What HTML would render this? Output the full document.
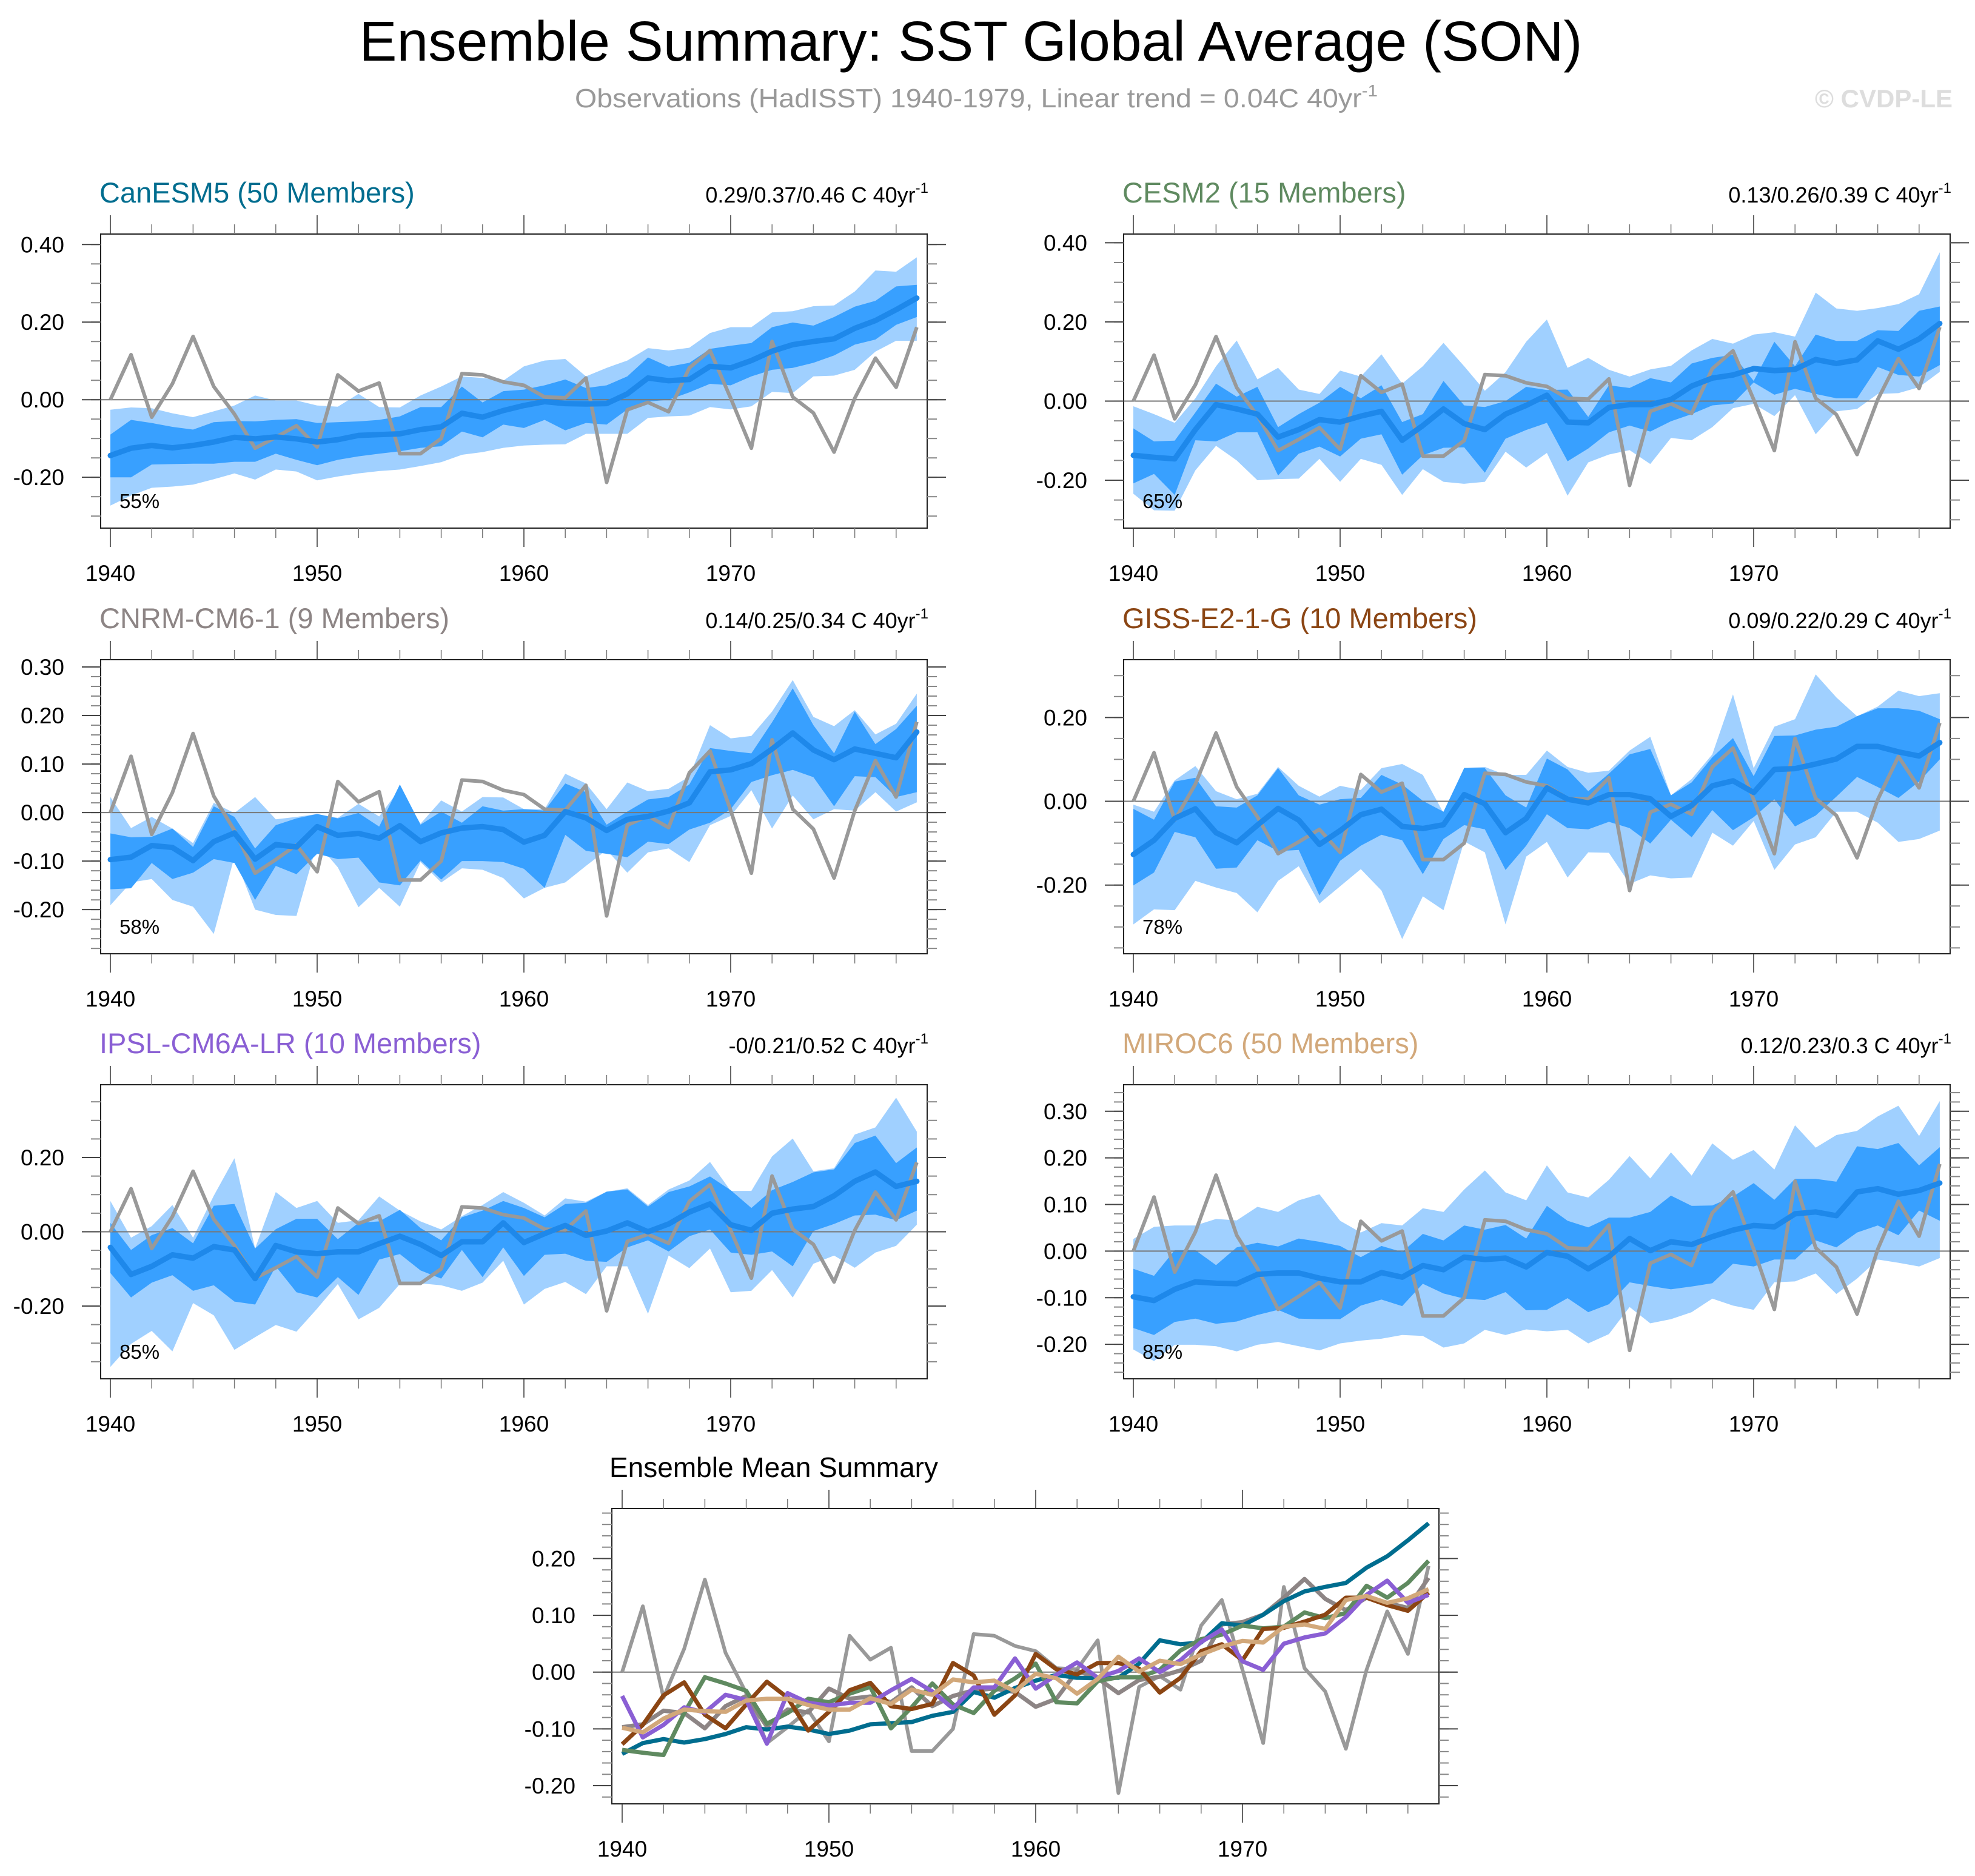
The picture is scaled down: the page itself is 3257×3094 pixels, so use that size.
<!DOCTYPE html>
<html><head><meta charset="utf-8">
<style>
html,body{margin:0;padding:0;background:#fff;}
svg{display:block;font-family:"Liberation Sans",Arial,sans-serif;}
</style></head>
<body>
<svg id="chart" xmlns="http://www.w3.org/2000/svg" width="3257" height="3094" viewBox="0 0 3257 3094">
<rect x="0" y="0" width="3257" height="3094" fill="#fff"/>
<text x="1601" y="100" font-size="93" text-anchor="middle" fill="#000" textLength="2017" lengthAdjust="spacingAndGlyphs">Ensemble Summary: SST Global Average (SON)</text>
<text x="948" y="177" font-size="44" fill="#999" textLength="1324" lengthAdjust="spacingAndGlyphs">Observations (HadISST) 1940-1979, Linear trend = 0.04C 40yr<tspan dy="-18" font-size="28">-1</tspan></text>
<text x="3220" y="177" font-size="42" font-weight="bold" fill="#ddd" text-anchor="end">© CVDP-LE</text>
</svg>
<script>
const years = [1940,1941,1942,1943,1944,1945,1946,1947,1948,1949,1950,1951,1952,1953,1954,1955,1956,1957,1958,1959,1960,1961,1962,1963,1964,1965,1966,1967,1968,1969,1970,1971,1972,1973,1974,1975,1976,1977,1978,1979];
const xTickLabels = ["1940","1950","1960","1970"];
const obs = [0.00,0.116,-0.045,0.041,0.163,0.034,-0.037,-0.125,-0.097,-0.067,-0.122,0.064,0.022,0.043,-0.139,-0.139,-0.10,0.067,0.064,0.046,0.037,0.007,0.005,0.056,-0.213,-0.026,-0.007,-0.031,0.082,0.127,0.004,-0.125,0.15,0.007,-0.034,-0.135,0.004,0.107,0.032,0.187];

const canMean = [-0.144,-0.125,-0.118,-0.124,-0.118,-0.109,-0.097,-0.101,-0.096,-0.101,-0.109,-0.103,-0.092,-0.09,-0.088,-0.077,-0.07,-0.035,-0.045,-0.028,-0.015,-0.005,-0.01,-0.011,-0.01,0.015,0.056,0.049,0.052,0.086,0.082,0.101,0.125,0.142,0.15,0.157,0.184,0.204,0.232,0.262];
const canP90 = [-0.026,-0.02,-0.022,-0.035,-0.045,-0.03,-0.015,0.011,-0.002,-0.002,-0.015,-0.018,0.015,-0.019,-0.02,0.011,0.034,0.06,0.056,0.049,0.086,0.101,0.105,0.06,0.082,0.101,0.133,0.127,0.134,0.172,0.187,0.187,0.225,0.228,0.241,0.243,0.279,0.333,0.33,0.367];
const canP75 = [-0.09,-0.052,-0.06,-0.07,-0.077,-0.058,-0.055,-0.056,-0.052,-0.05,-0.06,-0.058,-0.056,-0.052,-0.043,-0.019,-0.019,0.034,-0.007,0.022,0.026,0.037,0.052,0.03,0.037,0.06,0.109,0.085,0.095,0.131,0.139,0.146,0.187,0.199,0.191,0.213,0.24,0.255,0.292,0.296];
const canP25 = [-0.20,-0.20,-0.167,-0.166,-0.165,-0.165,-0.16,-0.16,-0.139,-0.155,-0.169,-0.155,-0.146,-0.139,-0.133,-0.124,-0.12,-0.082,-0.097,-0.064,-0.073,-0.052,-0.079,-0.06,-0.064,-0.025,-0.005,0.0,0.019,0.041,0.037,0.06,0.077,0.082,0.095,0.114,0.142,0.155,0.193,0.213];
const canP10 = [-0.273,-0.247,-0.227,-0.224,-0.219,-0.205,-0.19,-0.206,-0.18,-0.185,-0.208,-0.198,-0.19,-0.184,-0.18,-0.171,-0.161,-0.142,-0.135,-0.124,-0.118,-0.116,-0.115,-0.088,-0.088,-0.088,-0.047,-0.043,-0.041,-0.019,-0.025,-0.017,0.02,0.017,0.06,0.062,0.077,0.124,0.152,0.152];

const cesmMean = [-0.137,-0.142,-0.146,-0.072,-0.009,-0.02,-0.033,-0.091,-0.072,-0.047,-0.053,-0.038,-0.026,-0.099,-0.062,-0.02,-0.057,-0.072,-0.033,-0.011,0.015,-0.053,-0.055,-0.016,-0.009,-0.009,0.004,0.038,0.058,0.066,0.082,0.077,0.08,0.105,0.095,0.104,0.152,0.131,0.157,0.196];
const cesmP90 = [-0.013,-0.033,-0.055,0.007,0.088,0.153,0.055,0.084,0.029,0.018,0.077,0.062,0.118,0.044,0.088,0.147,0.088,0.026,0.073,0.15,0.206,0.084,0.109,0.079,0.062,0.08,0.089,0.128,0.157,0.145,0.168,0.174,0.163,0.274,0.234,0.228,0.235,0.245,0.27,0.376];
const cesmP75 = [-0.069,-0.102,-0.1,-0.029,0.044,0.011,0.036,-0.066,-0.033,-0.004,0.036,0.007,0.04,-0.053,-0.033,0.051,-0.011,-0.015,0.0,0.036,0.028,0.029,-0.04,0.04,0.033,0.058,0.047,0.095,0.109,0.117,0.051,0.15,0.088,0.168,0.152,0.152,0.179,0.177,0.228,0.239];
const cesmP25 = [-0.208,-0.184,-0.237,-0.099,-0.102,-0.079,-0.079,-0.188,-0.133,-0.115,-0.14,-0.095,-0.084,-0.186,-0.137,-0.118,-0.117,-0.181,-0.095,-0.073,-0.055,-0.152,-0.12,-0.079,-0.062,-0.077,-0.051,-0.033,-0.011,-0.006,0.047,0.016,0.031,0.018,0.007,0.007,0.086,0.066,0.062,0.091];
const cesmP10 = [-0.234,-0.276,-0.277,-0.175,-0.113,-0.15,-0.2,-0.197,-0.196,-0.146,-0.204,-0.146,-0.161,-0.237,-0.172,-0.204,-0.209,-0.204,-0.128,-0.168,-0.131,-0.239,-0.155,-0.135,-0.124,-0.159,-0.093,-0.099,-0.066,-0.018,-0.007,-0.038,0.015,-0.084,-0.026,-0.02,0.018,0.02,0.035,0.074];

const cnrmMean = [-0.097,-0.092,-0.068,-0.072,-0.099,-0.06,-0.042,-0.096,-0.066,-0.071,-0.029,-0.047,-0.043,-0.053,-0.027,-0.06,-0.042,-0.032,-0.029,-0.035,-0.061,-0.047,0.002,-0.011,-0.037,-0.014,-0.008,0.003,0.02,0.084,0.088,0.101,0.131,0.164,0.129,0.109,0.131,0.122,0.113,0.166];
const cnrmP90 = [0.032,-0.032,-0.009,-0.033,-0.063,0.02,-0.001,0.032,-0.014,-0.009,-0.003,-0.011,0.018,-0.008,0.049,-0.023,0.025,0.002,0.032,0.031,0.007,0.007,0.08,0.06,0.007,0.062,0.044,0.049,0.074,0.18,0.153,0.158,0.208,0.273,0.197,0.178,0.211,0.161,0.183,0.245];
const cnrmP75 = [-0.043,-0.051,-0.05,-0.033,-0.071,0.013,-0.009,-0.074,-0.026,-0.012,-0.003,-0.012,-0.001,-0.029,0.058,-0.025,0.002,-0.021,0.013,0.004,0.007,0.004,0.06,0.042,-0.025,0.002,0.027,0.032,0.058,0.133,0.127,0.122,0.186,0.256,0.18,0.122,0.208,0.141,0.172,0.22];
const cnrmP25 = [-0.158,-0.156,-0.104,-0.137,-0.124,-0.096,-0.104,-0.18,-0.11,-0.127,-0.085,-0.096,-0.093,-0.144,-0.15,-0.099,-0.138,-0.1,-0.1,-0.102,-0.116,-0.155,-0.046,-0.079,-0.085,-0.092,-0.06,-0.065,-0.035,-0.021,0.007,0.063,0.077,0.088,0.073,0.013,0.075,0.073,0.032,0.042];
const cnrmP10 = [-0.191,-0.144,-0.137,-0.18,-0.194,-0.25,-0.091,-0.2,-0.211,-0.213,-0.063,-0.113,-0.195,-0.155,-0.194,-0.102,-0.144,-0.115,-0.118,-0.135,-0.177,-0.155,-0.144,-0.11,-0.077,-0.124,-0.082,-0.074,-0.102,-0.026,-0.007,0.046,-0.033,0.035,-0.014,0.007,0.004,0.042,0.002,0.021];

const gissMean = [-0.127,-0.093,-0.041,-0.018,-0.075,-0.099,-0.057,-0.017,-0.045,-0.103,-0.07,-0.032,-0.019,-0.06,-0.065,-0.056,0.016,-0.006,-0.075,-0.041,0.032,0.005,-0.004,0.016,0.016,0.006,-0.036,-0.01,0.037,0.049,0.021,0.076,0.078,0.089,0.101,0.131,0.131,0.118,0.108,0.14];
const gissP90 = [-0.008,-0.025,0.05,0.084,0.024,0.005,0.018,0.082,0.037,0.011,0.037,0.027,0.079,0.089,0.063,-0.028,0.08,0.082,0.063,0.063,0.121,0.082,0.068,0.073,0.121,0.154,0.014,0.053,0.112,0.255,0.079,0.178,0.196,0.303,0.248,0.203,0.226,0.264,0.251,0.258];
const gissP75 = [-0.018,-0.044,0.047,0.056,-0.012,-0.015,0.014,0.079,0.014,-0.008,0.005,0.008,0.063,0.04,0.001,-0.025,0.079,0.079,0.014,-0.015,0.102,0.076,0.024,0.066,0.112,0.125,0.014,0.045,0.105,0.151,0.06,0.156,0.157,0.171,0.178,0.203,0.222,0.222,0.216,0.196];
const gissP25 = [-0.201,-0.17,-0.073,-0.086,-0.161,-0.158,-0.093,-0.119,-0.116,-0.225,-0.142,-0.106,-0.08,-0.093,-0.174,-0.09,-0.057,-0.067,-0.164,-0.106,-0.031,-0.064,-0.067,-0.049,-0.064,-0.101,-0.044,-0.086,-0.021,-0.069,-0.038,0.005,-0.06,-0.034,0.011,0.058,0.034,0.008,0.047,0.1];
const gissP10 = [-0.294,-0.258,-0.26,-0.19,-0.206,-0.219,-0.265,-0.19,-0.155,-0.244,-0.203,-0.162,-0.213,-0.329,-0.227,-0.26,-0.096,-0.122,-0.294,-0.132,-0.097,-0.182,-0.122,-0.123,-0.197,-0.177,-0.184,-0.182,-0.075,-0.106,-0.047,-0.164,-0.103,-0.086,-0.025,-0.025,-0.051,-0.097,-0.09,-0.07];

const ipslMean = [-0.042,-0.115,-0.093,-0.062,-0.071,-0.04,-0.049,-0.126,-0.037,-0.054,-0.059,-0.054,-0.054,-0.032,-0.012,-0.034,-0.064,-0.027,-0.027,0.024,-0.029,-0.005,0.017,-0.01,0.002,0.024,0.0,0.021,0.053,0.075,0.019,0.004,0.05,0.061,0.068,0.097,0.136,0.161,0.122,0.136];
const ipslP90 = [0.083,-0.016,0.015,0.072,-0.016,0.097,0.198,-0.045,0.107,0.064,0.083,0.024,0.031,0.095,0.057,0.028,0.006,0.042,0.072,0.107,0.078,0.044,0.09,0.081,0.108,0.117,0.072,0.114,0.138,0.188,0.11,0.11,0.203,0.251,0.163,0.171,0.262,0.281,0.361,0.27];
const ipslP75 = [0.024,-0.049,-0.009,0.01,-0.031,0.07,0.075,-0.045,0.007,0.035,0.035,-0.02,0.024,0.028,0.059,0.01,-0.023,0.039,0.057,0.083,0.064,0.039,0.075,0.078,0.108,0.114,0.068,0.107,0.122,0.149,0.112,0.064,0.112,0.134,0.16,0.168,0.239,0.259,0.185,0.227];
const ipslP25 = [-0.111,-0.177,-0.137,-0.117,-0.159,-0.144,-0.188,-0.196,-0.093,-0.163,-0.177,-0.122,-0.17,-0.075,-0.06,-0.104,-0.126,-0.049,-0.122,-0.042,-0.119,-0.062,-0.059,-0.078,-0.081,-0.042,-0.023,-0.053,-0.012,0.006,-0.056,-0.062,-0.053,-0.093,0.002,0.021,0.044,0.046,0.031,0.057];
const ipslP10 = [-0.364,-0.302,-0.267,-0.322,-0.192,-0.225,-0.318,-0.284,-0.251,-0.269,-0.207,-0.141,-0.236,-0.205,-0.141,-0.139,-0.144,-0.159,-0.137,-0.078,-0.196,-0.154,-0.135,-0.168,-0.093,-0.093,-0.221,-0.064,-0.098,-0.045,-0.163,-0.159,-0.103,-0.177,-0.086,-0.064,-0.097,-0.056,-0.038,0.019];

const mirocMean = [-0.098,-0.106,-0.082,-0.066,-0.069,-0.07,-0.05,-0.047,-0.047,-0.058,-0.066,-0.066,-0.046,-0.056,-0.031,-0.04,-0.013,-0.018,-0.015,-0.034,-0.003,-0.011,-0.038,-0.012,0.027,0.001,0.02,0.014,0.031,0.045,0.055,0.052,0.08,0.084,0.076,0.127,0.134,0.122,0.13,0.146];
const mirocP90 = [0.026,0.052,0.055,0.055,0.069,0.066,0.095,0.084,0.109,0.122,0.065,0.04,0.06,0.055,0.092,0.084,0.132,0.173,0.126,0.109,0.184,0.126,0.115,0.153,0.204,0.156,0.212,0.162,0.231,0.196,0.217,0.175,0.27,0.222,0.249,0.258,0.289,0.312,0.247,0.322];
const mirocP75 = [-0.038,-0.053,0.002,0.002,-0.03,0.008,0.018,0.01,0.027,0.02,0.011,-0.013,0.011,-0.002,0.037,0.023,0.055,0.046,0.056,0.027,0.097,0.065,0.051,0.072,0.072,0.084,0.119,0.097,0.098,0.117,0.146,0.11,0.155,0.155,0.149,0.225,0.219,0.232,0.184,0.223];
const mirocP25 = [-0.165,-0.18,-0.152,-0.145,-0.156,-0.151,-0.137,-0.126,-0.145,-0.146,-0.146,-0.117,-0.104,-0.118,-0.07,-0.091,-0.102,-0.105,-0.088,-0.127,-0.126,-0.101,-0.131,-0.114,-0.067,-0.075,-0.082,-0.076,-0.069,-0.027,-0.033,-0.018,-0.018,0.023,0.008,0.04,0.055,0.034,0.087,0.065];
const mirocP10 = [-0.211,-0.236,-0.201,-0.201,-0.204,-0.215,-0.201,-0.195,-0.204,-0.213,-0.198,-0.192,-0.188,-0.18,-0.182,-0.207,-0.198,-0.169,-0.18,-0.168,-0.172,-0.169,-0.198,-0.178,-0.12,-0.155,-0.146,-0.131,-0.102,-0.117,-0.126,-0.067,-0.065,-0.048,-0.092,-0.059,-0.018,-0.025,-0.033,-0.015];

const ticksA = [0.4,0.2,0.0,-0.2];
const tickLabelsA = ["0.40","0.20","0.00","-0.20"];
const ticksB = [0.3,0.2,0.1,0.0,-0.1,-0.2];
const tickLabelsB = ["0.30","0.20","0.10","0.00","-0.10","-0.20"];
const ticksC = [0.2,0.0,-0.2];
const tickLabelsC = ["0.20","0.00","-0.20"];
const ticksD = [0.2,0.1,0.0,-0.1,-0.2];
const tickLabelsD = ["0.20","0.10","0.00","-0.10","-0.20"];

const NS = "http://www.w3.org/2000/svg";
const svg = document.getElementById('chart');
function mk(tag, attrs, parent){
  const e = document.createElementNS(NS, tag);
  for (const k in attrs) e.setAttribute(k, attrs[k]);
  (parent||svg).appendChild(e);
  return e;
}

const panels = [
 {key:'canesm5', title:'CanESM5 (50 Members)', color:'#006d8f', trend:'0.29/0.37/0.46 C 40yr', pct:'55%', left:166, top:386, ymax:0.427, ymin:-0.331, ticks:ticksA, labels:tickLabelsA, minor:0.05, mean:canMean, p10:canP10, p25:canP25, p75:canP75, p90:canP90},
 {key:'cesm2', title:'CESM2 (15 Members)', color:'#5f8a60', trend:'0.13/0.26/0.39 C 40yr', pct:'65%', left:1853, top:386, ymax:0.422, ymin:-0.321, ticks:ticksA, labels:tickLabelsA, minor:0.05, mean:cesmMean, p10:cesmP10, p25:cesmP25, p75:cesmP75, p90:cesmP90},
 {key:'cnrm-cm6-1', title:'CNRM-CM6-1 (9 Members)', color:'#8d8585', trend:'0.14/0.25/0.34 C 40yr', pct:'58%', left:166, top:1088, ymax:0.315, ymin:-0.291, ticks:ticksB, labels:tickLabelsB, minor:0.02, mean:cnrmMean, p10:cnrmP10, p25:cnrmP25, p75:cnrmP75, p90:cnrmP90},
 {key:'giss-e2-1-g', title:'GISS-E2-1-G (10 Members)', color:'#8b4513', trend:'0.09/0.22/0.29 C 40yr', pct:'78%', left:1853, top:1088, ymax:0.338, ymin:-0.364, ticks:ticksC, labels:tickLabelsC, minor:0.05, mean:gissMean, p10:gissP10, p25:gissP25, p75:gissP75, p90:gissP90},
 {key:'ipsl-cm6a-lr', title:'IPSL-CM6A-LR (10 Members)', color:'#8a5fd4', trend:'-0/0.21/0.52 C 40yr', pct:'85%', left:166, top:1789, ymax:0.396, ymin:-0.396, ticks:ticksC, labels:tickLabelsC, minor:0.05, mean:ipslMean, p10:ipslP10, p25:ipslP25, p75:ipslP75, p90:ipslP90},
 {key:'miroc6', title:'MIROC6 (50 Members)', color:'#d2a87a', trend:'0.12/0.23/0.3 C 40yr', pct:'85%', left:1853, top:1789, ymax:0.357, ymin:-0.274, ticks:ticksB, labels:tickLabelsB, minor:0.02, mean:mirocMean, p10:mirocP10, p25:mirocP25, p75:mirocP75, p90:mirocP90}
];
const W = 1363, H = 485;

function drawAxes(g, left, top, w, h, x0, yS, ymin, ymax, ticks, labels, minor, key){
  const zl = mk('line',{x1:left,x2:left+w+30,y1:yS(0),y2:yS(0),stroke:'#777','stroke-width':2},g);
  
  
  const fr = mk('rect',{x:left,y:top,width:w,height:h,fill:'none',stroke:'#222','stroke-width':2},g);
  
  
  for (let i=0;i<years.length;i+=2){
    const yr = years[i];
    const x = x0 + (yr-1940)*34.1;
    const major = (yr % 10 === 0);
    const len = major ? 31 : 16;
    mk('line',{x1:x,x2:x,y1:top,y2:top-len,stroke:major?'#333':'#777','stroke-width':1.5},g);
    mk('line',{x1:x,x2:x,y1:top+h,y2:top+h+len,stroke:major?'#333':'#777','stroke-width':1.5},g);
  }
  xTickLabels.forEach(function(lab){
    const yr = parseInt(lab,10);
    const t = mk('text',{x:x0+(yr-1940)*34.1,y:top+h+87,'font-size':37,'text-anchor':'middle',fill:'#000'},g);
    
    
    t.textContent = lab;
  });
  const n0 = Math.ceil(ymin/minor - 1e-6), n1 = Math.floor(ymax/minor + 1e-6);
  for (let n=n0;n<=n1;n++){
    const v = n*minor, y = yS(v);
    mk('line',{x1:left,x2:left-16,y1:y,y2:y,stroke:'#888','stroke-width':2},g);
    mk('line',{x1:left+w,x2:left+w+16,y1:y,y2:y,stroke:'#888','stroke-width':2},g);
  }
  ticks.forEach(function(v,i){
    const y = yS(v);
    mk('line',{x1:left,x2:left-31,y1:y,y2:y,stroke:'#444','stroke-width':2},g);
    mk('line',{x1:left+w,x2:left+w+31,y1:y,y2:y,stroke:'#444','stroke-width':2},g);
    const t = mk('text',{x:left-60,y:y+13,'font-size':37,'text-anchor':'end',fill:'#000'},g);
    
    
    t.textContent = labels[i];
  });
}

function linePath(vals, xS, yS){
  return vals.map(function(v,i){return (i?'L':'M')+xS(years[i]).toFixed(1)+','+yS(v).toFixed(1);}).join(' ');
}
function bandPath(hi, lo, xS, yS){
  let d = hi.map(function(v,i){return (i?'L':'M')+xS(years[i]).toFixed(1)+','+yS(v).toFixed(1);}).join(' ');
  for (let i=lo.length-1;i>=0;i--) d += ' L'+xS(years[i]).toFixed(1)+','+yS(lo[i]).toFixed(1);
  return d+' Z';
}

panels.forEach(function(p){
  const g = mk('g',{});
  
  
  const x0 = p.left + 16;
  const xS = function(yr){ return x0 + (yr-1940)*34.1; };
  const yS = function(v){ return p.top + (p.ymax - v)/(p.ymax - p.ymin)*H; };
  const light = mk('path',{d:bandPath(p.p90,p.p10,xS,yS),fill:'#a0d0ff',stroke:'none'},g);
  
  
  const dark = mk('path',{d:bandPath(p.p75,p.p25,xS,yS),fill:'#38a0ff',stroke:'none'},g);
  
  
  drawAxes(g, p.left, p.top, W, H, x0, yS, p.ymin, p.ymax, p.ticks, p.labels, p.minor, p.key);
  const ob = mk('path',{d:linePath(obs,xS,yS),fill:'none',stroke:'#999','stroke-width':6,'stroke-linejoin':'round'},g);
  
  
  const mn = mk('path',{d:linePath(p.mean,xS,yS),fill:'none',stroke:'#1e88ea','stroke-width':9,'stroke-linejoin':'round','stroke-linecap':'round'},g);
  
  
  const tt = mk('text',{x:p.left-2,y:p.top-52,'font-size':47,fill:p.color},g);
  
  
  tt.textContent = p.title;
  const tr = mk('text',{x:p.left+W+2,y:p.top-52,'font-size':36,'text-anchor':'end',fill:'#000'},g);
  
  
  tr.textContent = p.trend;
  const sup = mk('tspan',{dy:-16,'font-size':24},tr);
  sup.textContent = '-1';
  const pc = mk('text',{x:p.left+31,y:p.top+452,'font-size':33,fill:'#000'},g);
  
  
  pc.textContent = p.pct;
});

(function(){
  const left = 1009, top = 2488, w = 1364, h = 487, ymax = 0.288, ymin = -0.232;
  const g = mk('g',{});
  
  
  const x0 = 1026;
  const xS = function(yr){ return x0 + (yr-1940)*34.1; };
  const yS = function(v){ return top + (ymax - v)/(ymax - ymin)*h; };
  drawAxes(g, left, top, w, h, x0, yS, ymin, ymax, ticksD, tickLabelsD, 0.02, 'summary');
  const ob = mk('path',{d:linePath(obs,xS,yS),fill:'none',stroke:'#999','stroke-width':6,'stroke-linejoin':'round'},g);
  
  
  const order = [2,0,1,3,4,5];
  order.forEach(function(k){
    const p = panels[k];
    const l = mk('path',{d:linePath(p.mean,xS,yS),fill:'none',stroke:p.color,'stroke-width':7,'stroke-linejoin':'round'},g);
    
    
  });
  const tt = mk('text',{x:1005,y:2436,'font-size':46,fill:'#000'},g);
  
  
  tt.textContent = 'Ensemble Mean Summary';
})();
</script>
</body></html>
